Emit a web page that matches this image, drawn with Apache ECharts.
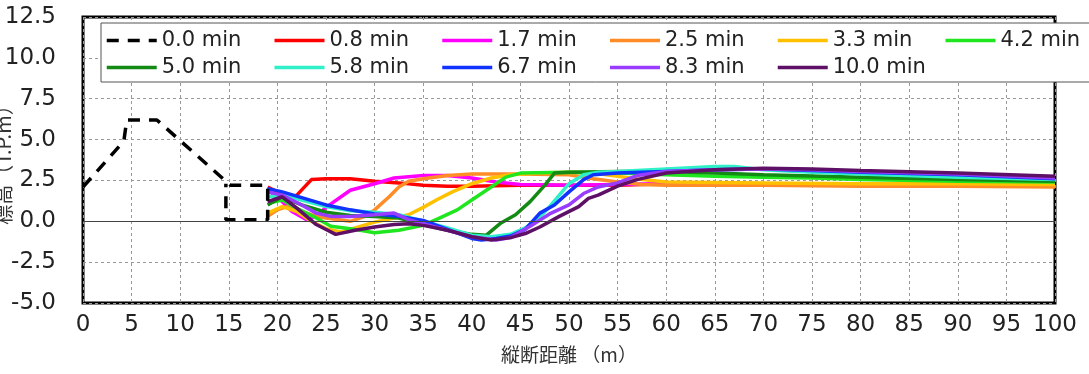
<!DOCTYPE html>
<html>
<head>
<meta charset="utf-8">
<script src="https://cdn.jsdelivr.net/npm/echarts@6/dist/echarts.min.js"></script>
<style>
  html, body { margin: 0; padding: 0; background: #fff; }
  #chart { width: 1089px; height: 374px; }
</style>
</head>
<body>
<div id="chart"></div>
<script>
// Longitudinal bed profile at successive times (x: distance in m, y: elevation T.P.m)
const seriesNames = ['0.0 min', '0.8 min', '1.7 min', '2.5 min', '3.3 min', '4.2 min',
                     '5.0 min', '5.8 min', '6.7 min', '8.3 min', '10.0 min'];
const seriesColors = ['#000000', '#ff0000', '#ff00ff', '#ff8c26', '#ffc000', '#20e620',
                      '#138a13', '#2ff0c8', '#1133ff', '#9a3cff', '#5e0f66'];

const xTicks = [0, 5, 10, 15, 20, 25, 30, 35, 40, 45, 50, 55, 60, 65, 70, 75, 80, 85, 90, 95, 100];
const yTicks = [-5.0, -2.5, 0.0, 2.5, 5.0, 7.5, 10.0, 12.5];

const t00 = [[0,2.1],[4.2,4.9],[4.5,6.2],[7.6,6.2],[14.8,2.4],[15.2,2.2],[19,2.2],[19,0.1],[14.7,0.1],[14.7,2.3]];
const t08 = [[19,2.1],[20,1.8],[21,1.45],[22,1.6],[23.5,2.55],[25,2.6],[27.5,2.6],[30,2.45],[32.5,2.35],[35,2.2],[37.5,2.15],[40,2.15],[45,2.2],[50,2.2],[55,2.2],[60,2.3],[70,2.3],[80,2.3],[90,2.25],[100,2.2]];
const t17 = [[19,1.9],[20,1.5],[21.5,0.6],[23,0.1],[24,0.3],[25,0.85],[27.5,1.9],[30,2.3],[32,2.65],[35,2.8],[37.5,2.8],[40,2.65],[42.5,2.4],[45,2.25],[50,2.2],[55,2.25],[60,2.3],[70,2.2],[80,2.2],[90,2.15],[100,2.15]];
const t25 = [[19,0.3],[20,0.7],[21,0.9],[22.5,0.6],[24,0.3],[25,0.2],[27.5,0],[29,0.3],[30,0.7],[31.5,1.5],[32.5,2.1],[33.5,2.45],[35,2.6],[37.5,2.8],[40,2.9],[45,2.9],[50,2.85],[52.5,2.6],[55,2.4],[57.5,2.25],[60,2.2],[70,2.2],[80,2.15],[90,2.15],[100,2.1]];
const t33 = [[19,0.5],[20.5,0.9],[22,0.6],[23.5,0],[25,-0.45],[26.5,-0.65],[28,-0.4],[30,-0.05],[32,0.2],[33.5,0.4],[35,0.85],[36.5,1.35],[38,1.8],[40,2.3],[42,2.65],[44,2.85],[47,2.95],[50,3.0],[52.5,2.95],[55,2.75],[57.5,2.55],[60,2.4],[70,2.35],[80,2.3],[90,2.3],[100,2.25]];
const t42 = [[19,1.1],[20.5,1.3],[22,0.8],[24,0.2],[25.5,-0.3],[27.5,-0.45],[30,-0.7],[32.5,-0.55],[35,-0.25],[36.5,0.15],[38.5,0.7],[40,1.3],[42,2.1],[43.5,2.7],[45,2.95],[50,3.0],[55,2.95],[60,2.85],[65,2.75],[70,2.7],[75,2.65],[80,2.55],[90,2.45],[100,2.4]];
const t50 = [[19,1.0],[20.5,1.5],[22.5,1.0],[25,0.55],[27.5,0.35],[30,0.3],[32.5,0.2],[35,-0.2],[37.5,-0.55],[40,-0.8],[41.5,-0.85],[43,-0.1],[44.5,0.4],[46,1.2],[47.5,2.2],[48.5,2.95],[50,3.0],[55,3.05],[60,3.05],[65,2.95],[70,2.85],[80,2.7],[90,2.55],[100,2.45]];
const t58 = [[19,1.5],[20.5,1.6],[22.5,1.3],[25,0.9],[27.5,0.65],[30,0.55],[32.5,0.4],[35,0],[37.5,-0.4],[40,-0.85],[42,-0.95],[44,-0.8],[45.5,-0.4],[47,0.25],[48,0.9],[49,1.6],[50,2.3],[51.5,2.85],[53,3.0],[55,3.05],[60,3.2],[65,3.35],[67,3.35],[70,3.15],[75,3.0],[80,2.9],[90,2.7],[100,2.55]];
const t67 = [[19,2.0],[20.5,1.8],[22.5,1.45],[25,1.0],[27.5,0.7],[30,0.45],[32.5,0.3],[35,0.05],[37.5,-0.5],[40,-1.05],[41,-1.15],[42.5,-1.05],[44,-0.9],[45.5,-0.5],[47,0.5],[48.5,1.0],[50,1.8],[51.5,2.55],[52.5,2.85],[55,2.95],[60,3.05],[65,3.15],[70,3.2],[75,3.1],[80,3.0],[90,2.85],[100,2.6]];
const t83 = [[19,1.8],[20.5,1.6],[22.5,1.0],[24,0.5],[25.5,0.3],[27.5,0.3],[30,0.4],[32,0.5],[33.5,0.1],[35,-0.15],[37.5,-0.55],[40,-0.95],[42.5,-1.15],[44,-1.0],[46,-0.3],[48,0.45],[50,1.0],[51.5,1.7],[53,2.1],[55,2.35],[57,2.8],[60,3.05],[65,3.15],[70,3.2],[75,3.15],[80,3.05],[90,2.9],[100,2.65]];
const t100 = [[19,1.2],[20.5,1.5],[22,0.8],[24,-0.2],[26,-0.8],[28,-0.55],[30,-0.35],[32,-0.2],[33.5,-0.15],[35,-0.25],[37.5,-0.55],[40,-0.95],[42,-1.15],[44,-1.0],[45.5,-0.75],[47,-0.35],[49,0.3],[51,0.9],[52,1.4],[53,1.6],[55,2.15],[57,2.55],[60,2.95],[65,3.15],[70,3.25],[75,3.2],[80,3.1],[90,2.95],[100,2.75]];

const profiles = [t00, t08, t17, t25, t33, t42, t50, t58, t67, t83, t100];

const series = profiles.map((data, i) => ({
  name: seriesNames[i],
  type: 'line',
  data: data,
  symbol: 'none',
  showSymbol: false,
  smooth: false,
  z: i === 0 ? 3 : 2,
  lineStyle: i === 0
    ? { color: seriesColors[i], width: 3.5, type: [12, 9] }
    : { color: seriesColors[i], width: 3.5 },
  itemStyle: { color: seriesColors[i] }
}));

// solid reference line at elevation 0
series[0].markLine = {
  silent: true,
  symbol: 'none',
  label: { show: false },
  lineStyle: { color: '#444', width: 1, type: 'solid' },
  data: [{ yAxis: 0 }]
};

const chart = echarts.init(document.getElementById('chart'), null, { renderer: 'canvas' });
chart.setOption({
  animation: false,
  backgroundColor: '#fff',
  grid: {
    left: 83, top: 17, right: 34, bottom: 71,
    containLabel: false,
    outerBoundsMode: 'none',
    show: true, borderColor: '#000', borderWidth: 3, backgroundColor: '#fff'
  },
  legend: {
    left: 101, top: 23,
    width: 1060,
    padding: [4, 4, 1, 4],
    itemGap: 0,
    itemWidth: 50,
    itemHeight: 14,
    selectedMode: false,
    backgroundColor: '#fff',
    borderColor: '#555',
    borderWidth: 1,
    itemStyle: { opacity: 0 },
    lineStyle: { width: 3.5 },
    data: seriesNames,
    textStyle: {
      fontFamily: 'DejaVu Sans', fontSize: 21, color: '#222',
      width: 111, lineHeight: 27
    }
  },
  xAxis: {
    type: 'value',
    min: xTicks[0], max: xTicks[xTicks.length - 1], interval: 5,
    name: '縦断距離 （m）',
    nameLocation: 'middle',
    nameGap: 42,
    nameMoveOverlap: false,
    nameTextStyle: { fontFamily: 'Noto Sans CJK JP', fontSize: 19, color: '#333' },
    axisLine: { show: false },
    axisTick: { show: false },
    axisLabel: {
      fontFamily: 'DejaVu Sans', fontSize: 23, color: '#222', margin: 11,
      formatter: v => String(v)
    },
    splitLine: { show: true, lineStyle: { color: '#999', width: 1, type: [3, 3] } }
  },
  yAxis: {
    type: 'value',
    min: yTicks[0], max: yTicks[yTicks.length - 1], interval: 2.5,
    name: '標高（T.P.m）',
    nameLocation: 'middle',
    nameGap: 70,
    nameMoveOverlap: false,
    nameTextStyle: { fontFamily: 'Noto Sans CJK JP', fontSize: 20, color: '#333' },
    axisLine: { show: false },
    axisTick: { show: false },
    axisLabel: {
      fontFamily: 'DejaVu Sans', fontSize: 23, color: '#222', margin: 27,
      formatter: v => v.toFixed(1)
    },
    splitLine: { show: true, lineStyle: { color: '#999', width: 1, type: [3, 3] } }
  },
  series: series
});
</script>
</body>
</html>
